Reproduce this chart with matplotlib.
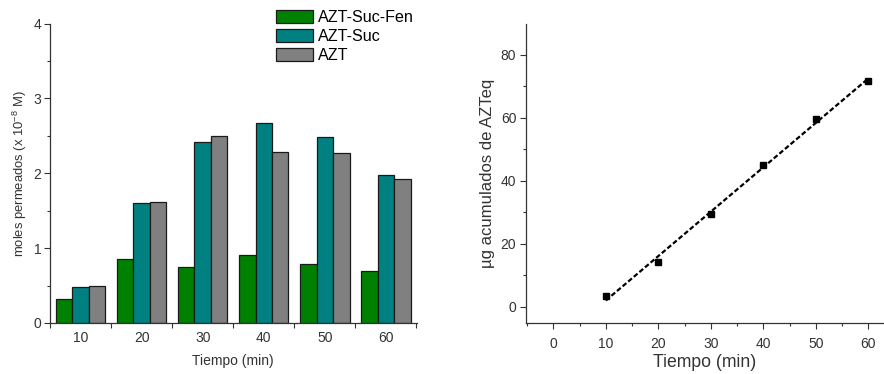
import numpy as np
import matplotlib
matplotlib.use("Agg")
import matplotlib.pyplot as plt
from matplotlib.ticker import MultipleLocator, FixedLocator

plt.rcParams['font.family'] = ['Liberation Sans', 'DejaVu Sans']

# Permeated moles per sampling time (x 10^-8 M)
times = ["10", "20", "30", "40", "50", "60"]
azt_suc_fen = [0.325, 0.854, 0.743, 0.908, 0.788, 0.699]
azt_suc = [0.485, 1.607, 2.412, 2.675, 2.479, 1.980]
azt = [0.498, 1.620, 2.500, 2.283, 2.270, 1.920]

# Cumulative AZTeq (µg) over time
t_min = [10, 20, 30, 40, 50, 60]
ug_azteq = [3.4, 14.2, 29.3, 45.1, 59.6, 71.8]

txt = "#333333"
fig = plt.figure(figsize=(8.84, 3.74), dpi=100)

# ---- left: grouped bars ----
ax1 = fig.add_axes([49.5 / 884, 51 / 374, (417 - 49.5) / 884, (323 - 23.5) / 374])
x = np.arange(1, len(times) + 1)
w = 0.27
series = [(azt_suc_fen, "#008000", "AZT-Suc-Fen"),
          (azt_suc, "#008080", "AZT-Suc"),
          (azt, "#808080", "AZT")]
handles = []
for i, (vals, col, lab) in enumerate(series):
    b = ax1.bar(x + (i - 1) * w, vals, width=w, color=col, edgecolor="#1a1a1a",
                linewidth=0.9, label=lab)
    handles.append(b)
ax1.set_xlim(0.49, 6.51)
ax1.set_ylim(0, 4)
ax1.xaxis.set_major_locator(FixedLocator(x))
ax1.set_xticklabels(times)
ax1.xaxis.set_minor_locator(FixedLocator(np.arange(0.5, 7.0, 1.0)))
ax1.tick_params(axis='x', which='major', length=0, pad=6)
ax1.tick_params(axis='x', which='minor', length=3.5, width=0.8, direction='out', color="#333333")
ax1.yaxis.set_major_locator(MultipleLocator(1))
ax1.yaxis.set_minor_locator(MultipleLocator(0.5))
ax1.tick_params(axis='y', which='major', length=4, width=0.8, direction='out', color="#333333", pad=2)
ax1.tick_params(axis='y', which='minor', length=2.5, width=0.8, direction='out', color="#333333")
ax1.tick_params(labelsize=10, labelcolor=txt)
for s in ("top", "right"):
    ax1.spines[s].set_visible(False)
for s in ("left", "bottom"):
    ax1.spines[s].set_linewidth(0.9)
    ax1.spines[s].set_color("#333333")
ax1.set_xlabel("Tiempo (min)", fontsize=10, color=txt, labelpad=6)
ax1.set_ylabel("moles permeados (x 10$^{\\mathregular{-8}}$ M)", fontsize=9.4, color=txt,
               labelpad=3)

fig.legend(handles=handles, loc="upper left", bbox_to_anchor=(276 / 884, 1 - 9.5 / 374),
           frameon=False, fontsize=11.6, handlelength=2.3, handleheight=0.9,
           labelspacing=0.25, handletextpad=0.3, borderpad=0, borderaxespad=0)

# ---- right: cumulative amount with linear fit ----
ax2 = fig.add_axes([526 / 884, 51 / 374, (883 - 526) / 884, (323 - 23.5) / 374])
ax2.plot(t_min, ug_azteq, linestyle="none", marker="s", markersize=5,
         color="black", zorder=3)
coef = np.polyfit(t_min, ug_azteq, 1)
xf = np.array([t_min[0], t_min[-1]])
ax2.plot(xf, np.polyval(coef, xf), linestyle=(0, (2.2, 1.1)), color="black",
         linewidth=1.6, zorder=2)
ax2.set_xlim(-5.2, 62.8)
ax2.set_ylim(-5.2, 90)
ax2.xaxis.set_major_locator(MultipleLocator(10))
ax2.xaxis.set_minor_locator(MultipleLocator(5))
ax2.yaxis.set_major_locator(FixedLocator([0, 20, 40, 60, 80]))
ax2.yaxis.set_minor_locator(FixedLocator([10, 30, 50, 70]))
ax2.tick_params(which='major', length=4, width=0.8, direction='out', color="#333333",
                labelsize=10, labelcolor=txt)
ax2.tick_params(which='minor', length=2.5, width=0.8, direction='out', color="#333333")
ax2.tick_params(axis='x', pad=6)
ax2.tick_params(axis='y', pad=3)
for s in ("top", "right"):
    ax2.spines[s].set_visible(False)
for s in ("left", "bottom"):
    ax2.spines[s].set_linewidth(0.9)
    ax2.spines[s].set_color("#333333")
ax2.set_xlabel("Tiempo (min)", fontsize=12.7, color=txt, labelpad=2)
ax2.set_ylabel("µg acumulados de AZTeq", fontsize=12, color=txt, labelpad=4)

fig.savefig("out.png", dpi=100)
